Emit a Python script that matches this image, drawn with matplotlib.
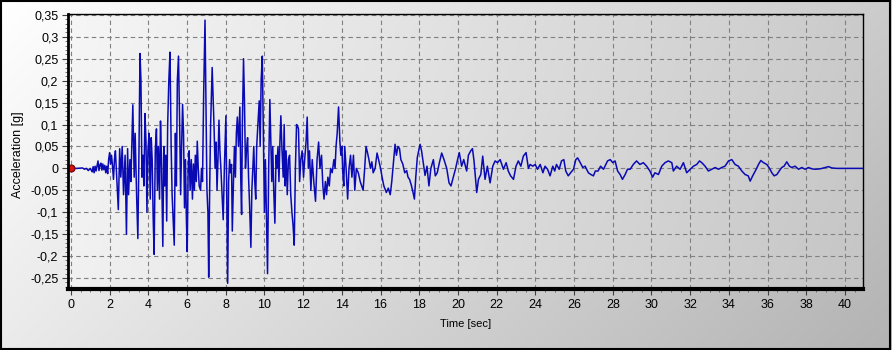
import numpy as np
import matplotlib
matplotlib.use("Agg")
import matplotlib.pyplot as plt
from matplotlib.ticker import MultipleLocator, FuncFormatter
from matplotlib.patches import Rectangle

# ---------------- data ----------------
time_s = [
    0.0, 0.3, 0.6, 0.7, 0.8, 0.9, 1.0, 1.1, 1.15, 1.2, 1.25, 1.3, 1.4, 1.45, 1.5, 1.55, 1.6, 1.65, 1.7, 1.75,
    1.8, 1.85, 1.9, 1.95, 2.0, 2.05, 2.1, 2.15, 2.2, 2.25, 2.3,
    2.38, 2.45, 2.52, 2.58, 2.65, 2.72, 2.8, 2.87, 2.93, 2.98, 3.05, 3.1, 3.2, 3.27, 3.32, 3.4, 3.46, 3.52, 3.57,
    3.62, 3.67, 3.72, 3.77, 3.83, 3.88, 3.93, 3.98, 4.04, 4.1, 4.15, 4.2, 4.25, 4.3, 4.36, 4.42, 4.47, 4.52, 4.58, 4.63,
    4.68, 4.75, 4.8, 4.85, 4.9, 4.95, 5.0, 5.06, 5.12, 5.18, 5.23, 5.3, 5.34, 5.4, 5.45, 5.5, 5.56, 5.62, 5.67, 5.72,
    5.77, 5.82, 5.87, 5.92, 5.97, 6.01, 6.06, 6.11, 6.16, 6.22, 6.28, 6.33, 6.38, 6.43, 6.48, 6.53, 6.58, 6.63, 6.7, 6.75,
    6.8, 6.86, 6.93, 6.98, 7.03, 7.08, 7.12, 7.17, 7.22, 7.3, 7.35, 7.4, 7.45, 7.5, 7.55, 7.6, 7.65, 7.7, 7.75, 7.8,
    7.87, 7.93, 7.98, 8.01, 8.05, 8.1, 8.15, 8.2, 8.25, 8.3, 8.34, 8.4, 8.45, 8.5, 8.55, 8.6, 8.66, 8.73, 8.78, 8.82,
    8.86, 8.92, 8.97, 9.02, 9.07, 9.13, 9.18, 9.23, 9.3, 9.35, 9.4, 9.45, 9.5, 9.55, 9.6, 9.66, 9.73, 9.78, 9.83, 9.89,
    9.94, 10.0, 10.05, 10.1, 10.16, 10.22, 10.28, 10.33, 10.38, 10.43, 10.48, 10.54, 10.6, 10.65, 10.7, 10.75, 10.8, 10.85, 10.9, 10.97,
    11.02, 11.07, 11.12, 11.18, 11.24, 11.3, 11.36, 11.42, 11.48, 11.54, 11.6, 11.66, 11.71, 11.76, 11.82, 11.88, 11.95, 12.02, 12.08, 12.15,
    12.21, 12.27, 12.33, 12.4, 12.47, 12.55, 12.64, 12.72, 12.8, 12.87, 12.95, 13.02, 13.08, 13.15, 13.21, 13.28, 13.35, 13.42, 13.5, 13.59,
    13.65, 13.7, 13.76, 13.83, 13.9, 13.95, 14.0, 14.05, 14.1, 14.15, 14.22, 14.3, 14.37, 14.45, 14.52, 14.6, 14.67, 14.75, 14.85, 14.95,
    15.1, 15.18, 15.25, 15.33, 15.4, 15.48, 15.55, 15.62, 15.72, 15.82, 15.9, 16.0, 16.08, 16.17, 16.3, 16.4, 16.5, 16.58, 16.65, 16.75,
    16.82, 16.9, 16.98, 17.05, 17.15, 17.25, 17.35, 17.42, 17.5, 17.6, 17.68, 17.75, 17.82, 17.9, 18.04, 18.12, 18.2, 18.3, 18.4, 18.5,
    18.6, 18.73, 18.83, 18.93, 19.04, 19.16, 19.28, 19.42, 19.54, 19.64, 19.76, 19.88, 19.98, 20.07, 20.19, 20.3, 20.45, 20.54, 20.66, 20.75,
    20.83, 20.97, 21.06, 21.18, 21.28, 21.4, 21.52, 21.66, 21.8, 21.92, 22.04, 22.18, 22.35, 22.49, 22.6, 22.72, 22.87, 23.0, 23.12, 23.25,
    23.38, 23.52, 23.64, 23.73, 23.87, 23.99, 24.11, 24.25, 24.39, 24.5, 24.63, 24.76, 24.9, 25.0, 25.09, 25.23, 25.35, 25.47, 25.57, 25.7,
    25.82, 25.97, 26.09, 26.18, 26.32, 26.45, 26.57, 26.74, 26.87, 27.0, 27.1, 27.24, 27.37, 27.52, 27.64, 27.73, 27.87, 28.0, 28.12, 28.25,
    28.38, 28.5, 28.64, 28.76, 28.9, 29.06, 29.23, 29.4, 29.58, 29.75, 29.92, 30.06, 30.18, 30.36, 30.53, 30.7, 30.87, 31.05, 31.13, 31.3,
    31.48, 31.65, 31.82, 32.0, 32.17, 32.34, 32.48, 32.6, 32.77, 32.94, 33.11, 33.29, 33.46, 33.63, 33.8, 33.98, 34.15, 34.32, 34.49, 34.67,
    34.84, 35.0, 35.1, 35.23, 35.41, 35.53, 35.65, 35.79, 35.96, 36.1, 36.22, 36.34, 36.48, 36.6, 36.73, 36.85, 36.99, 37.13, 37.25, 37.42,
    37.6, 37.77, 37.94, 38.11, 38.29, 38.46, 38.72, 38.98, 39.15, 39.32, 39.58, 40.9,
]

accel_g = [
    0.0, 0.0, 0.001, -0.002, 0.0, -0.005, 0.0, -0.008, 0.004, -0.01, 0.005, -0.006, 0.017, -0.005, 0.008, 0.012, -0.004, 0.01, -0.003, 0.007,
    -0.01, 0.005, -0.012, 0.02, 0.036, 0.01, 0.03, 0.005, -0.025, 0.02, 0.04,
    -0.03, -0.094, 0.045, -0.02, 0.05, -0.06, 0.03, -0.15, 0.045, -0.06, 0.02, -0.03, 0.145, -0.02, 0.08, -0.07, -0.16, 0.05, 0.262,
    0.2, -0.02, 0.03, -0.04, 0.125, 0.06, -0.1, 0.04, 0.08, -0.07, 0.07, 0.02, -0.11, -0.196, 0.04, 0.09, -0.05, 0.05, -0.07, 0.108,
    0.02, -0.178, 0.05, -0.04, 0.03, -0.12, 0.1, 0.2, 0.265, 0.05, -0.06, -0.134, -0.175, 0.08, -0.04, 0.2, 0.256, 0.1, -0.06, 0.05,
    0.146, 0.08, -0.09, 0.02, -0.12, -0.19, 0.0, 0.04, -0.05, 0.02, -0.07, 0.01, -0.05, 0.03, -0.03, 0.062, 0.0, -0.04, -0.05, 0.0,
    -0.03, 0.17, 0.338, 0.14, -0.05, -0.1, -0.248, -0.05, 0.1, 0.23, 0.16, 0.09, 0.0, 0.06, -0.05, 0.02, 0.11, 0.04, 0.0, -0.05,
    -0.117, 0.0, 0.08, 0.12, -0.05, -0.262, -0.03, 0.02, -0.01, 0.009, -0.143, -0.03, 0.05, -0.02, 0.08, 0.117, 0.05, 0.14, -0.03, -0.105,
    0.1, 0.25, 0.15, 0.0, 0.04, 0.07, -0.02, -0.08, -0.18, -0.05, 0.0, 0.05, -0.03, -0.07, 0.05, 0.1, 0.154, 0.05, 0.2, 0.256,
    0.1, -0.1, 0.02, -0.1, -0.24, 0.0, 0.157, 0.06, -0.03, 0.05, -0.05, -0.125, 0.03, 0.0, 0.05, -0.03, 0.06, 0.12, 0.05, -0.02,
    0.1, -0.04, 0.04, -0.06, 0.02, 0.03, -0.06, -0.1, -0.13, -0.175, 0.0, 0.1, 0.097, 0.09, -0.03, 0.02, 0.04, -0.02, 0.02, 0.06,
    0.117, 0.0, 0.04, -0.05, 0.02, -0.03, -0.075, 0.02, 0.06, 0.0, 0.03, -0.04, -0.07, -0.03, -0.06, -0.02, -0.04, 0.0, -0.01, 0.02,
    0.0, 0.05, 0.08, 0.14, 0.06, 0.03, 0.05, -0.01, -0.04, 0.05, 0.0, -0.07, 0.0, 0.03, -0.02, 0.03, -0.05, 0.0, -0.01, -0.03,
    -0.05, 0.0, 0.05, 0.035, 0.02, 0.0, 0.015, -0.01, 0.0, 0.035, 0.02, 0.0, -0.02, -0.04, -0.055, -0.045, -0.06, -0.03, 0.005, 0.055,
    0.03, 0.05, 0.045, 0.02, 0.01, -0.01, -0.005, -0.02, -0.025, -0.04, -0.055, -0.07, -0.02, 0.025, 0.055, 0.04, 0.015, -0.016, 0.005, -0.04,
    0.0, 0.02, -0.017, -0.01, 0.013, 0.035, 0.02, 0.0, -0.033, -0.04, -0.02, 0.0, 0.02, 0.036, 0.005, 0.02, -0.006, 0.03, 0.04, 0.045,
    0.017, -0.055, -0.025, -0.014, 0.028, -0.025, 0.005, -0.033, 0.005, 0.017, 0.013, 0.02, -0.002, 0.013, -0.006, -0.017, -0.025, 0.005, 0.017, 0.005,
    0.028, 0.036, 0.0, 0.009, 0.005, 0.009, -0.002, 0.009, -0.01, 0.005, -0.002, -0.017, 0.005, -0.006, 0.009, -0.002, 0.017, 0.02, -0.006, -0.017,
    -0.01, -0.002, 0.02, 0.024, 0.013, 0.002, 0.005, -0.01, -0.014, -0.017, -0.006, -0.006, 0.005, -0.002, 0.009, 0.017, 0.02, 0.013, 0.017, -0.006,
    -0.014, -0.025, -0.014, -0.002, -0.002, 0.009, 0.017, 0.009, 0.013, 0.005, -0.006, -0.02, -0.01, -0.014, 0.005, 0.013, 0.017, 0.013, -0.006, 0.005,
    -0.002, 0.013, -0.01, -0.002, 0.005, 0.009, 0.017, 0.013, 0.005, -0.006, -0.002, 0.002, -0.002, 0.002, 0.005, 0.017, 0.02, 0.009, 0.005, -0.006,
    -0.014, -0.017, -0.029, -0.017, -0.002, 0.009, 0.018, 0.013, 0.009, 0.0, -0.01, -0.017, -0.014, -0.006, 0.002, 0.005, 0.015, 0.005, 0.002, 0.005,
    -0.002, 0.002, -0.002, 0.002, -0.001, -0.002, -0.001, 0.002, 0.004, 0.001, 0.0, 0.0,
]

x_ticks = list(range(0, 41, 2))
y_ticks = [-0.25, -0.2, -0.15, -0.1, -0.05, 0.0, 0.05, 0.1, 0.15, 0.2, 0.25, 0.3, 0.35]

# ---------------- figure ----------------
W, H = 892, 350
fig = plt.figure(figsize=(W / 100, H / 100), dpi=100)

narrow = ['Liberation Sans Narrow', 'Liberation Sans', 'DejaVu Sans']

# background gradient (whole figure)
bg = fig.add_axes([0, 0, 1, 1], zorder=-10)
u = np.linspace(0, 1, 300)[None, :]
v = np.linspace(0, 1, 120)[:, None]
g = 1.0 - 0.20 * u - 0.08 * v - 0.02 * u * v
bg.imshow(np.dstack([g, g, g]), extent=[0, 1, 0, 1], aspect='auto', origin='upper',
          transform=bg.transAxes)
bg.set_xlim(0, 1)
bg.set_ylim(0, 1)
bg.axis('off')
bg.add_patch(Rectangle((0.001, 0.002), 0.997, 0.996, transform=bg.transAxes,
                       fill=False, edgecolor='black', linewidth=1.5))

left, right = 68 / W, 863 / W
bottom, top = 1 - 289 / H, 1 - 14 / H
ax = fig.add_axes([left, bottom, right - left, top - bottom])
ax.set_facecolor('none')

# plot-area gradient (horizontal)
pg = 0.965 - 0.17 * np.linspace(0, 1, 300)[None, :] - 0.02 * np.linspace(0, 1, 50)[:, None]
ax.imshow(np.dstack([pg, pg, pg]), extent=[0, 1, 0, 1], aspect='auto',
          transform=ax.transAxes, zorder=0)

ax.plot(time_s, accel_g, color='#0a0ab4', linewidth=1.1, zorder=3)
ax.plot([0], [0], marker='o', markersize=5, markerfacecolor='#d01010',
        markeredgecolor='#700000', markeredgewidth=0.8, zorder=4, clip_on=False)

ax.set_xlim(-0.15, 40.93)
ax.set_ylim(-0.275, 0.352)
ax.set_xticks(x_ticks)
ax.set_yticks(y_ticks)
ax.xaxis.set_minor_locator(MultipleLocator(0.5))
ax.yaxis.set_minor_locator(MultipleLocator(0.01))

def yfmt(val, pos):
    s = ('%.2f' % val).rstrip('0').rstrip('.')
    if s in ('-0', ''):
        s = '0'
    return s.replace('.', ',')

ax.yaxis.set_major_formatter(FuncFormatter(yfmt))

ax.grid(True, which='major', linestyle=(0, (4, 3)), color='#808080', linewidth=0.8, zorder=1)
ax.set_axisbelow(False)

for lbl in ax.get_xticklabels() + ax.get_yticklabels():
    lbl.set_fontfamily(narrow)
    lbl.set_fontsize(9)

ax.tick_params(axis='both', which='major', direction='out', length=4, width=0.8, color='#404040', pad=3)
ax.tick_params(axis='both', which='minor', direction='out', length=2, width=0.6, color='#606060')

ax.spines['bottom'].set_linewidth(3)
ax.spines['left'].set_linewidth(2)
ax.spines['top'].set_linewidth(1)
ax.spines['right'].set_linewidth(1)
for s in ax.spines.values():
    s.set_color('black')
    s.set_zorder(5)

ax.set_xlabel('Time [sec]', fontsize=8, family=narrow, labelpad=6)
ax.set_ylabel('Acceleration [g]', fontsize=9, family=narrow)
ax.yaxis.set_label_coords((24 - 68) / 795, 0.49)

fig.savefig('out.png', dpi=100)
